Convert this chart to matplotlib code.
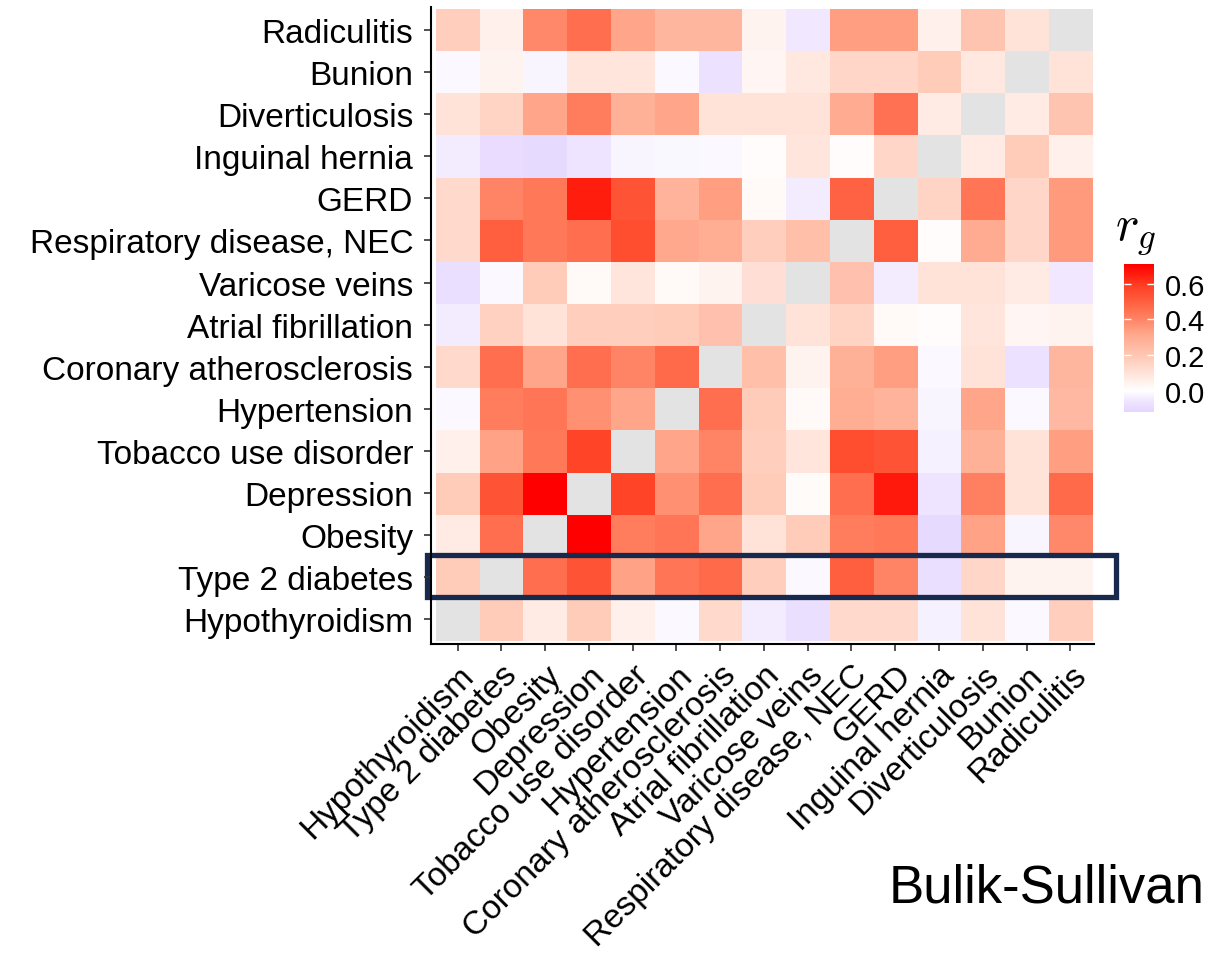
import numpy as np
import matplotlib
matplotlib.use("Agg")
import matplotlib.pyplot as plt
from matplotlib.colors import LinearSegmentedColormap, Normalize
from matplotlib.patches import Rectangle

plt.rcParams['font.family'] = ['Liberation Sans', 'DejaVu Sans']
plt.rcParams['mathtext.fontset'] = 'cm'

# traits, bottom to top on y and left to right on x
traits = ['Hypothyroidism', 'Type 2 diabetes', 'Obesity', 'Depression',
          'Tobacco use disorder', 'Hypertension', 'Coronary atherosclerosis',
          'Atrial fibrillation', 'Varicose veins', 'Respiratory disease, NEC',
          'GERD', 'Inguinal hernia', 'Diverticulosis', 'Bunion', 'Radiculitis']

nan = np.nan
# genetic correlations, one row per trait (same order as traits)
rg_hypothyroidism = [nan, 0.18, 0.07, 0.18, 0.05, -0.01, 0.13, -0.04, -0.08, 0.13, 0.13, -0.03, 0.10, -0.01, 0.17]
rg_t2d = [0.18, nan, 0.46, 0.53, 0.33, 0.44, 0.47, 0.17, -0.01, 0.50, 0.40, -0.08, 0.14, 0.04, 0.04]
rg_obesity = [0.07, 0.46, nan, 0.71, 0.42, 0.44, 0.32, 0.10, 0.18, 0.42, 0.43, -0.10, 0.33, -0.02, 0.39]
rg_depression = [0.18, 0.53, 0.71, nan, 0.58, 0.37, 0.46, 0.18, 0.015, 0.46, 0.66, -0.06, 0.41, 0.10, 0.47]
rg_tobacco = [0.05, 0.33, 0.43, 0.58, nan, 0.32, 0.40, 0.17, 0.09, 0.55, 0.53, -0.03, 0.28, 0.10, 0.34]
rg_hypertension = [-0.01, 0.42, 0.44, 0.37, 0.32, nan, 0.46, 0.18, 0.02, 0.29, 0.27, -0.02, 0.32, -0.01, 0.25]
rg_coronary = [0.13, 0.46, 0.32, 0.46, 0.40, 0.47, nan, 0.23, 0.04, 0.28, 0.34, -0.01, 0.10, -0.07, 0.26]
rg_afib = [-0.04, 0.16, 0.10, 0.17, 0.17, 0.18, 0.22, nan, 0.10, 0.15, 0.02, 0.01, 0.09, 0.03, 0.04]
rg_varicose = [-0.08, -0.01, 0.18, 0.02, 0.09, 0.02, 0.04, 0.11, nan, 0.22, -0.04, 0.10, 0.10, 0.07, -0.05]
rg_respiratory = [0.13, 0.50, 0.43, 0.46, 0.55, 0.31, 0.29, 0.17, 0.23, nan, 0.50, 0.01, 0.30, 0.14, 0.35]
rg_gerd = [0.13, 0.40, 0.43, 0.65, 0.53, 0.27, 0.34, 0.02, -0.04, 0.49, nan, 0.15, 0.44, 0.14, 0.35]
rg_inguinal = [-0.04, -0.09, -0.10, -0.06, -0.02, -0.015, -0.01, 0.01, 0.09, 0.01, 0.14, nan, 0.07, 0.18, 0.05]
rg_diverticulosis = [0.10, 0.15, 0.32, 0.42, 0.28, 0.32, 0.10, 0.10, 0.10, 0.30, 0.45, 0.07, nan, 0.07, 0.21]
rg_bunion = [-0.01, 0.04, -0.02, 0.09, 0.09, -0.01, -0.07, 0.03, 0.08, 0.14, 0.14, 0.18, 0.08, nan, 0.10]
rg_radiculitis = [0.17, 0.05, 0.39, 0.46, 0.32, 0.26, 0.26, 0.04, -0.05, 0.34, 0.34, 0.05, 0.21, 0.10, nan]

colorbar_ticks = [0.0, 0.2, 0.4, 0.6]


def main():
    rg = np.array([rg_hypothyroidism, rg_t2d, rg_obesity, rg_depression, rg_tobacco,
                   rg_hypertension, rg_coronary, rg_afib, rg_varicose, rg_respiratory,
                   rg_gerd, rg_inguinal, rg_diverticulosis, rg_bunion, rg_radiculitis])
    vmin, vmax = -0.12, 0.71
    stops = [(-0.12, '#e4d5ff'), (-0.06, '#efe5ff'), (0.0, '#ffffff'), (0.1, '#ffe2d8'),
             (0.18, '#ffccba'), (0.27, '#ffb49c'), (0.32, '#ffa68a'), (0.40, '#ff8566'),
             (0.46, '#ff6e4e'), (0.53, '#ff5436'), (0.58, '#ff4428'), (0.65, '#ff1e0f'),
             (0.71, '#ff0000')]
    cmap = LinearSegmentedColormap.from_list(
        'rg', [((v - vmin) / (vmax - vmin), c) for v, c in stops])
    cmap.set_bad('#e3e3e3')
    norm = Normalize(vmin, vmax)

    fig = plt.figure(figsize=(12.08, 9.54), dpi=100)
    ax = fig.add_axes([0.357, 0.324, 0.549, 0.668])
    im = ax.imshow(np.ma.masked_invalid(rg), cmap=cmap, norm=norm,
                   origin='lower', aspect='auto', interpolation='nearest')
    ax.set_xlim(-0.6, 14.55)
    ax.set_ylim(-0.58, 14.55)

    n = len(traits)
    ax.set_xticks(range(n))
    ax.set_yticks(range(n))
    ax.set_xticklabels(traits, rotation=45, ha='right', rotation_mode='anchor', fontsize=24)
    ax.set_yticklabels(traits, fontsize=24)
    ax.tick_params(length=5, width=1.2, color='#333333')
    ax.tick_params(axis='y', pad=8)
    ax.tick_params(axis='x', pad=6)
    for side in ['top', 'right']:
        ax.spines[side].set_visible(False)
    for side in ['left', 'bottom']:
        ax.spines[side].set_linewidth(1.5)

    # box around the Type 2 diabetes row
    ax.add_patch(Rectangle((-0.7, 0.54), 15.75, 0.99, fill=False, edgecolor='#172a4d',
                           linewidth=3.8, clip_on=False))

    cax = fig.add_axes([0.9305, 0.567, 0.0248, 0.155])
    cb = fig.colorbar(im, cax=cax, ticks=colorbar_ticks)
    cb.outline.set_visible(False)
    cb.ax.set_yticklabels([f'{t:.1f}' for t in colorbar_ticks], fontsize=21)
    cb.ax.tick_params(direction='in', color='white', length=5, width=1, pad=8, left=True)
    fig.text(0.940, 0.731, r'$r_g$', fontsize=36, ha='center', va='bottom')

    fig.text(0.997, 0.054, 'Bulik-Sullivan', fontsize=38, ha='right')

    fig.savefig('out.png', dpi=100)


if __name__ == "__main__":
    main()
